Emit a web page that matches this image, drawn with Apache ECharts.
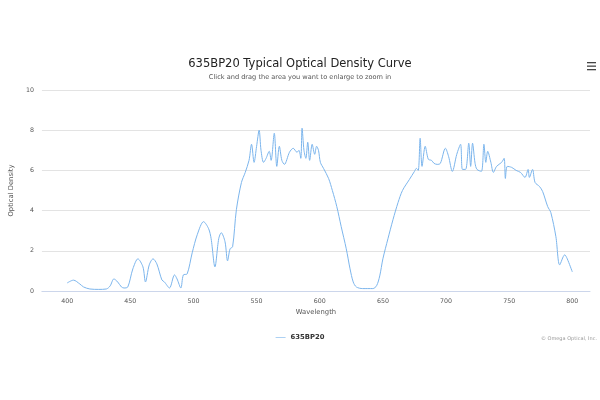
<!DOCTYPE html>
<html>
<head>
<meta charset="utf-8">
<script src="https://cdn.jsdelivr.net/npm/echarts@6/dist/echarts.min.js"></script>
<style>
  html, body { margin: 0; padding: 0; background: #fff; }
  #chart { width: 600px; height: 400px; }
</style>
</head>
<body>
<div id="chart"></div>
<script>
// wavelength (nm) and optical density
var wavelengths = [
  400, 405, 410, 413, 418, 425, 431, 434, 437, 440, 443, 445, 448, 452, 456, 460, 462, 465, 468, 471,
  475, 477, 481, 485, 487, 490, 492, 495, 499, 503, 508, 512, 514, 517, 520, 522, 525, 527, 529, 531,
  534, 538, 541, 544, 546, 548, 550, 552, 553.5, 555.5, 557.5, 560, 561.5, 564, 566, 568, 570, 572, 576, 579,
  582, 583.5, 585, 586, 587.5, 589, 590.5, 592, 594, 596, 597.5, 599, 600.5, 603, 607, 610, 613.5, 617, 621, 624,
  626.5, 629, 634, 642, 645, 647.5, 650, 654, 658, 662, 665.5, 671, 675, 676.5, 678, 679.5, 681, 683.5, 686, 688.5,
  690.5, 693, 695.5, 699.5, 702, 705, 708.5, 711.5, 713, 715.5, 718, 719.5, 721, 723, 724.5, 728, 730, 731.5, 733, 735.5,
  737.5, 740, 744, 746, 747, 748.5, 752, 755.5, 759, 762.5, 765, 766, 768.5, 770.5, 774, 776.5, 780.5, 783, 787, 790,
  794, 796, 800
];
var density = [
  0.4, 0.54, 0.35, 0.2, 0.1, 0.08, 0.1, 0.25, 0.6, 0.45, 0.2, 0.15, 0.2, 1.1, 1.6, 1.2, 0.45, 1.3, 1.6, 1.35,
  0.55, 0.45, 0.15, 0.8, 0.6, 0.15, 0.8, 0.85, 1.9, 2.8, 3.45, 3.1, 2.6, 1.2, 2.6, 2.9, 2.45, 1.5, 2.1, 2.2,
  4.05, 5.4, 5.9, 6.5, 7.3, 6.4, 7.2, 8.0, 7.0, 6.4, 6.6, 6.95, 6.5, 7.85, 6.2, 7.2, 6.5, 6.3, 6.9, 7.1,
  6.9, 7.0, 6.6, 8.1, 7.0, 6.6, 7.4, 6.5, 7.3, 6.8, 7.2, 7.0, 6.4, 6.1, 5.6, 5.0, 4.2, 3.2, 2.1, 1.1,
  0.45, 0.2, 0.12, 0.12, 0.26, 0.75, 1.6, 2.6, 3.55, 4.4, 5.0, 5.55, 5.95, 6.1, 6.0, 7.6, 6.2, 7.2, 6.55, 6.5,
  6.35, 6.3, 6.35, 7.1, 6.7, 5.95, 6.8, 7.3, 6.05, 6.05, 7.35, 6.2, 7.35, 6.35, 6.05, 5.95, 7.3, 6.4, 6.95, 6.4,
  5.9, 6.2, 6.4, 6.6, 5.6, 6.2, 6.15, 6.0, 5.9, 5.65, 6.05, 5.65, 6.05, 5.4, 5.2, 4.95, 4.2, 3.9, 2.7, 1.3,
  1.8, 1.6, 0.95
];
var xTicks = [400, 450, 500, 550, 600, 650, 700, 750, 800];
var seriesName = '635BP20';

var font = 'DejaVu Sans';
var points = wavelengths.map(function (w, i) { return [w, density[i]]; });

var chart = echarts.init(document.getElementById('chart'));
chart.setOption({
  animation: false,
  textStyle: { fontFamily: font },
  title: [
    {
      text: '635BP20 Typical Optical Density Curve',
      left: 'center', top: 58, padding: 0,
      textStyle: { fontSize: 11.5, fontWeight: 'normal', color: '#222', fontFamily: font }
    },
    {
      text: 'Click and drag the area you want to enlarge to zoom in',
      left: 'center', top: 74, padding: 0,
      textStyle: { fontSize: 6.6, fontWeight: 'normal', color: '#555', fontFamily: font }
    }
  ],
  legend: {
    data: [seriesName],
    left: 'center', top: 329,
    icon: 'path://M0,0 L16,0 L16,1 L0,1 Z',
    itemWidth: 10, itemHeight: 1,
    itemGap: 4,
    textStyle: { fontSize: 6.8, fontWeight: 'bold', color: '#333', fontFamily: font }
  },
  grid: { left: 34, right: 10, top: 90, bottom: 109 },
  xAxis: {
    type: 'value',
    min: 380, max: 814,
    name: 'Wavelength', nameLocation: 'middle', nameGap: 17,
    nameTextStyle: { fontSize: 6.8, color: '#555' },
    axisLine: { lineStyle: { color: '#ccd6eb' } },
    axisTick: { show: false },
    splitLine: { show: false },
    axisLabel: { customValues: xTicks, fontSize: 6.3, color: '#555', margin: 7 }
  },
  yAxis: {
    type: 'value',
    min: 0, max: 10, interval: 2,
    name: 'Optical Density', nameLocation: 'middle', nameGap: 23,
    nameTextStyle: { fontSize: 6.8, color: '#555' },
    axisLine: { show: false },
    axisTick: { show: false },
    splitLine: { lineStyle: { color: '#e3e3e3' } },
    axisLabel: { fontSize: 6.3, color: '#555', margin: 8 }
  },
  graphic: [
    {
      type: 'group', left: 587, top: 62,
      children: [
        { type: 'rect', shape: { x: 0, y: 0, width: 9, height: 1.3 }, style: { fill: '#444' } },
        { type: 'rect', shape: { x: 0, y: 3.5, width: 9, height: 1.3 }, style: { fill: '#444' } },
        { type: 'rect', shape: { x: 0, y: 7, width: 9, height: 1.3 }, style: { fill: '#444' } }
      ]
    },
    {
      type: 'text', right: 3, top: 336,
      style: { text: '\u00a9 Omega Optical, Inc.', fontSize: 5, fill: '#999', fontFamily: font }
    }
  ],
  series: [
    {
      name: seriesName,
      type: 'line',
      data: points,
      smooth: 0.3,
      showSymbol: false,
      symbol: 'none',
      color: '#7cb5ec',
      lineStyle: { width: 1, color: '#7cb5ec' }
    }
  ]
});
</script>
</body>
</html>
